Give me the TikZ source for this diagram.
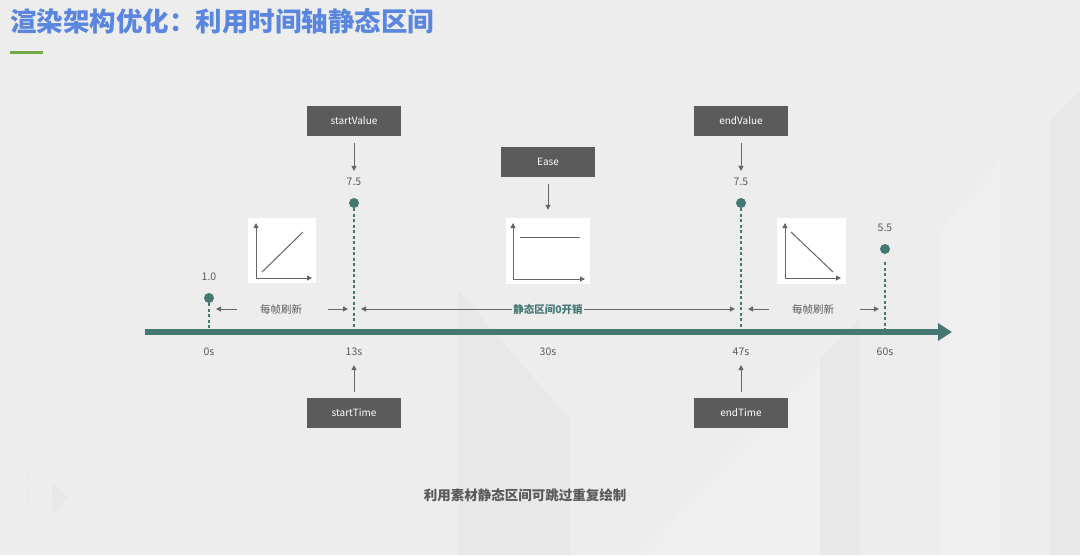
\documentclass[tikz,border=0pt]{standalone}
\usepackage{fontspec}
\setmainfont{Noto Sans CJK SC}
\usetikzlibrary{arrows.meta}

\definecolor{bgcol}{HTML}{EDEDED}
\definecolor{bgdark}{HTML}{E8E8E8}
\definecolor{bglight}{HTML}{EFEFEF}
\definecolor{titleblue}{HTML}{5A86E0}
\definecolor{linegreen}{HTML}{70AD47}
\definecolor{tealc}{HTML}{457873}
\definecolor{boxgray}{HTML}{5B5B5B}
\definecolor{txtgray}{HTML}{5A5A5A}
\definecolor{arrgray}{HTML}{666666}

\begin{document}
\begin{tikzpicture}[x=1pt,y=-1pt,
	darkbox/.style={fill=boxgray,text=white,minimum width=94pt,minimum height=30pt,inner sep=0pt,font=\fontsize{10}{12}\selectfont},
	tlabel/.style={text=txtgray,inner sep=1pt,font=\fontsize{10.5}{12}\selectfont},
	ptr/.style={draw=arrgray,line width=1pt,-{Triangle[length=5pt,width=5pt]}},
	tdot/.style={circle,fill=tealc,minimum size=10pt,inner sep=0pt},
	vdash/.style={draw=tealc,line width=1.6pt,dash pattern=on 3pt off 2.5pt},
	icon/.style={fill=white,inner sep=0pt},
	curve/.style={draw=arrgray,line width=1pt}
]
	% background
	\useasboundingbox (0,0) rectangle (1080,555);
	\fill[bgcol] (0,0) rectangle (1080,555);
	\fill[bgdark] (458,290) -- (570,420) -- (570,555) -- (458,555) -- cycle;
	\fill[bglight] (640,555) -- (820,360) -- (820,555) -- cycle;
	\fill[bgdark] (820,555) -- (820,360) -- (860,318) -- (860,555) -- cycle;
	\fill[bglight] (940,555) -- (940,230) -- (1000,160) -- (1000,555) -- cycle;
	\fill[bgdark] (1050,555) -- (1050,120) -- (1080,90) -- (1080,555) -- cycle;
	\draw[bgdark,line width=1pt,dashed] (28,473) -- (50,497) -- (28,522) -- cycle;
	\fill[bgdark] (52,482) -- (68,498) -- (52,515) -- cycle;

	% title
	\node[anchor=west,text=titleblue,inner sep=0pt,font=\fontsize{26.5}{30}\selectfont\bfseries] (title) at (10,21) {渲染架构优化：利用时间轴静态区间};
	\draw[linegreen,line width=3pt] (10,52) -- (43,52);

	% time axis
	\draw[tealc,line width=6.5pt,-{Triangle[length=14pt,width=17pt]}] (145,332) -- (952,332);
	\foreach \n/\x in {0/209,13/354,30/548,47/741,60/885}
		\node[tlabel] (l\n) at (\x,352) {\n s};

	% key frames
	\node[tdot] (d0) at (209,298) {};
	\node[tdot] (d13) at (354,203) {};
	\node[tdot] (d47) at (741,203) {};
	\node[tdot] (d60) at (885,249) {};
	\node[tlabel] (v0) at (209,277) {1.0};
	\node[tlabel] (v13) at (354,182) {7.5};
	\node[tlabel] (v47) at (741,182) {7.5};
	\node[tlabel] (v60) at (885,228) {5.5};
	\coordinate (a0) at (209,329);
	\coordinate (a13) at (354,329);
	\coordinate (a47) at (741,329);
	\coordinate (a60) at (885,329);
	\draw[vdash] (d0) -- (a0);
	\draw[vdash] (d13) -- (a13);
	\draw[vdash] (d47) -- (a47);
	\draw[vdash,shorten <=8pt] (d60) -- (a60);

	% parameter boxes
	\node[darkbox] (sv) at (354,121) {startValue};
	\node[darkbox] (ez) at (548,162) {Ease};
	\node[darkbox] (ev) at (741,121) {endValue};
	\node[darkbox] (st) at (354,413) {startTime};
	\node[darkbox] (et) at (741,413) {endTime};
	\draw[ptr,shorten <=7pt,shorten >=6pt] (sv) -- (v13);
	\draw[ptr,shorten <=7pt,shorten >=6pt] (ev) -- (v47);
	\draw[ptr,shorten <=6pt,shorten >=8pt] (st) -- (l13);
	\draw[ptr,shorten <=6pt,shorten >=8pt] (et) -- (l47);

	% ease icons
	\node[icon,minimum width=68pt,minimum height=65pt] (ic1) at (282,250.5) {};
	\node[icon,minimum width=84pt,minimum height=66pt] (ic2) at (548,251) {};
	\node[icon,minimum width=69pt,minimum height=66pt] (ic3) at (811.5,251) {};
	\draw[ptr,shorten <=7pt,shorten >=8pt] (ez) -- (ic2);
	\draw[ptr] (256,278) -- (256,223);
	\draw[ptr] (256,278) -- (312,278);
	\draw[curve] (262,272) -- (303,232);
	\draw[ptr] (513,279) -- (513,223);
	\draw[ptr] (513,279) -- (585,279);
	\draw[curve] (520,237) -- (580,237);
	\draw[ptr] (785,278) -- (785,223);
	\draw[ptr] (785,278) -- (841,278);
	\draw[curve] (791,232) -- (833,272);

	% spans
	\node[tlabel] (r1) at (281,309) {每帧刷新};
	\node[text=tealc,inner sep=1pt,font=\fontsize{10.5}{12}\selectfont\bfseries] (zc) at (548,309) {静态区间0开销};
	\node[tlabel] (r2) at (813,309) {每帧刷新};
	\coordinate (p0) at (216,309);
	\coordinate (p13a) at (348,309);
	\coordinate (p13b) at (361,309);
	\coordinate (p47a) at (735,309);
	\coordinate (p47b) at (748,309);
	\coordinate (p60) at (879,309);
	\draw[ptr,shorten <=22pt] (r1.west) -- (p0);
	\draw[ptr,shorten <=25pt] (r1.east) -- (p13a);
	\draw[ptr] (zc.west) -- (p13b);
	\draw[ptr] (zc.east) -- (p47a);
	\draw[ptr,shorten <=22pt] (r2.west) -- (p47b);
	\draw[ptr,shorten <=25pt] (r2.east) -- (p60);

	% caption
	\node[text=txtgray,inner sep=0pt,font=\fontsize{13.5}{16}\selectfont\bfseries] (cap) at (525,495) {利用素材静态区间可跳过重复绘制};
\end{tikzpicture}
\end{document}
